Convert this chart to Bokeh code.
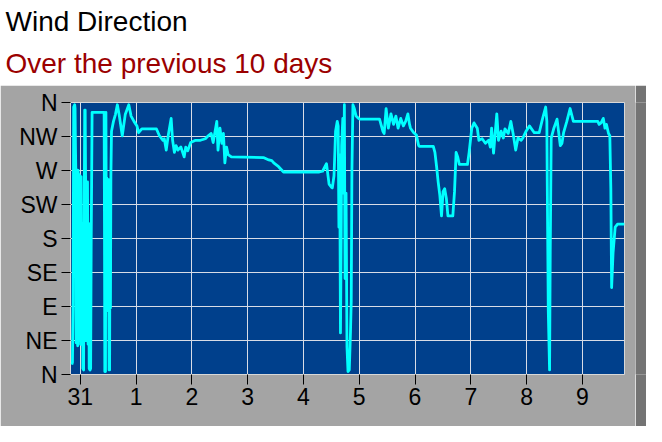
from bokeh.plotting import figure
from bokeh.models import FixedTicker, Range1d, Title
from bokeh.layouts import column, row
from bokeh.embed import file_html
from bokeh.resources import INLINE

title_text = "Wind Direction"
subtitle_text = "Over the previous 10 days"

# x axis: days since the start of day "31"
x_ticks = [0, 1, 2, 3, 4, 5, 6, 7, 8, 9]
x_labels = ["31", "1", "2", "3", "4", "5", "6", "7", "8", "9"]

# y axis: compass direction in degrees
y_ticks = [0, 45, 90, 135, 180, 225, 270, 315, 360]
y_labels = ["N", "NE", "E", "SE", "S", "SW", "W", "NW", "N"]

days = [
    -0.152, -0.140, -0.128, -0.118, -0.100, -0.093, -0.086, -0.080, -0.074, -0.068,
    -0.061, -0.053, -0.046, -0.038, -0.030, -0.022, -0.013, -0.004, 0.006, 0.016,
    0.026, 0.036, 0.046, 0.060, 0.070, 0.080, 0.088, 0.096, 0.104, 0.112,
    0.120, 0.130, 0.140, 0.150, 0.160, 0.175, 0.186, 0.196, 0.203, 0.212,
    0.320, 0.428, 0.434, 0.440, 0.452, 0.460, 0.468, 0.476, 0.484, 0.492,
    0.500, 0.508, 0.516, 0.526, 0.533, 0.541, 0.549, 0.560,
    0.595, 0.630, 0.665, 0.701, 0.753, 0.806, 0.870, 0.911, 0.963, 1.016,
    1.046, 1.103, 1.366, 1.419, 1.483, 1.506, 1.541, 1.576, 1.629, 1.655,
    1.687, 1.716, 1.751, 1.804, 1.862, 1.891, 1.926, 1.979, 2.067, 2.154,
    2.242, 2.294, 2.347, 2.382, 2.447, 2.469, 2.504, 2.539, 2.566, 2.592,
    2.622, 2.650, 2.709, 3.292, 3.380, 3.433, 3.468, 3.555, 3.643, 3.818,
    4.285, 4.343, 4.413, 4.460, 4.501, 4.518, 4.548, 4.565, 4.576, 4.606,
    4.623, 4.636, 4.650, 4.664, 4.676, 4.685, 4.706, 4.720, 4.734, 4.746,
    4.764, 4.781, 4.799, 4.822, 4.843, 4.857, 4.869, 4.887, 4.912, 4.944,
    4.985, 5.009, 5.364, 5.424, 5.447, 5.482, 5.522, 5.569, 5.616, 5.657,
    5.697, 5.744, 5.792, 5.832, 5.872, 5.902, 5.919, 5.977, 6.025, 6.065,
    6.077, 6.328, 6.357, 6.387, 6.415, 6.445, 6.475, 6.503, 6.532, 6.562,
    6.590, 6.678, 6.708, 6.737, 6.765, 6.795, 6.940, 6.970, 7.018, 7.058,
    7.116, 7.145, 7.203, 7.262, 7.320, 7.350, 7.373, 7.408, 7.437, 7.466,
    7.496, 7.543, 7.583, 7.612, 7.671, 7.718, 7.758, 7.805, 7.846, 7.904,
    7.933, 7.991, 8.051, 8.138, 8.226, 8.284, 8.342, 8.363, 8.371, 8.389,
    8.412, 8.424, 8.441, 8.489, 8.546, 8.604, 8.634, 8.663, 8.721, 8.780,
    8.839, 9.277, 9.300, 9.335, 9.375, 9.405, 9.431, 9.469, 9.492, 9.510,
    9.524, 9.550, 9.588, 9.630, 9.758,
]

direction = [
    13, 16, 97, 354, 357, 352, 300, 271, 42, 271,
    55, 268, 38, 270, 60, 265, 45, 263, 40, 262,
    50, 200, 8, 6, 200, 350, 350, 255, 45, 250,
    50, 255, 40, 200, 8, 6, 8, 178, 250, 347,
    347, 347, 200, 4, 4, 347, 150, 260, 85, 255,
    84, 258, 6, 6, 250, 88, 262, 322,
    335, 344, 357, 342, 316, 344, 357, 342, 335, 329,
    320, 325, 325, 316, 310, 312, 297, 316, 339, 310,
    294, 303, 297, 301, 288, 301, 296, 307, 310, 310,
    312, 316, 319, 307, 335, 297, 326, 306, 319, 280,
    301, 291, 288, 287, 284, 283, 280, 275, 268, 268,
    268, 269, 279, 252, 248, 247, 263, 297, 322, 335,
    329, 195, 291, 55, 176, 303, 339, 240, 357, 127,
    240, 36, 4, 6, 55, 97, 268, 357, 352, 342,
    339, 338, 338, 322, 319, 352, 326, 345, 331, 342,
    326, 339, 329, 335, 345, 331, 326, 320, 317, 303,
    302, 302, 294, 275, 255, 237, 210, 242, 246, 233,
    210, 210, 242, 294, 288, 278, 278, 294, 326, 333,
    326, 310, 312, 306, 310, 301, 326, 293, 319, 345,
    310, 322, 313, 325, 319, 335, 319, 297, 313, 310,
    313, 322, 329, 320, 320, 338, 354, 335, 250, 84,
    6, 163, 313, 326, 338, 303, 306, 320, 335, 352,
    335, 335, 331, 333, 339, 326, 331, 319, 316, 246,
    115, 161, 195, 199, 199,
]

FONT = "Liberation Sans"
PANEL = "#a4a4a4"
SHADOW = "#747474"
PLOT_BG = "#00408c"
TRACE = "#00ffff"

W = 646
SHADOW_W = 11
HEAD_H = 85
MAIN_H = 341
BORDER_L = 70
BORDER_R = 22

# ---- header (white band with the two titles) ----
header = figure(width=W, height=HEAD_H,
                x_range=Range1d(0, 1), y_range=Range1d(0, 1),
                toolbar_location=None, output_backend="svg",
                x_axis_location=None, y_axis_location=None,
                min_border_left=BORDER_L, min_border_right=BORDER_R,
                min_border_top=1, min_border_bottom=0)
header.title = None
header.grid.visible = False
header.outline_line_color = None
header.background_fill_color = "white"
header.border_fill_color = "white"
header.add_layout(Title(text=subtitle_text, align="left", offset=-65, standoff=11,
                        text_font=FONT, text_font_size="28px",
                        text_font_style="normal", text_color="#9b0000"), "above")
header.add_layout(Title(text=title_text, align="left", offset=-65, standoff=7,
                        text_font=FONT, text_font_size="28px",
                        text_font_style="normal", text_color="black"), "above")

# ---- main chart ----
p = figure(width=W - SHADOW_W, height=MAIN_H,
           x_range=Range1d(-0.175, 9.755), y_range=Range1d(0, 360),
           toolbar_location=None, output_backend="svg",
           min_border_left=BORDER_L, min_border_right=BORDER_R - SHADOW_W,
           min_border_top=17, min_border_bottom=52)
p.background_fill_color = PLOT_BG
p.border_fill_color = PANEL
p.outline_line_color = "#d8d8d8"
p.outline_line_width = 1

p.xaxis.ticker = FixedTicker(ticks=x_ticks)
p.xaxis.major_label_overrides = {t: l for t, l in zip(x_ticks, x_labels)}
p.yaxis.ticker = FixedTicker(ticks=y_ticks)
p.yaxis.major_label_overrides = {t: l for t, l in zip(y_ticks, y_labels)}

for ax in (p.xaxis, p.yaxis):
    ax.axis_line_color = None
    ax.major_tick_line_color = "black"
    ax.major_tick_line_width = 1
    ax.major_tick_in = 0
    ax.minor_tick_line_color = None
    ax.major_label_text_font = FONT
    ax.major_label_text_font_size = "23px"
    ax.major_label_text_color = "black"
p.xaxis.major_tick_out = 10
p.xaxis.major_label_standoff = 3
p.yaxis.major_tick_out = 9
p.yaxis.major_label_standoff = 4

p.xgrid.ticker = FixedTicker(ticks=x_ticks)
p.ygrid.ticker = FixedTicker(ticks=y_ticks)
p.grid.grid_line_color = "#d8dce6"
p.grid.grid_line_width = 1
p.grid.grid_line_alpha = 1.0

p.line(days, direction, line_color=TRACE, line_width=2.8, line_join="round")

# ---- right-hand bevel shadow of the grey panel ----
shadow = figure(width=SHADOW_W, height=MAIN_H,
                x_range=Range1d(0, 1), y_range=Range1d(0, 1),
                toolbar_location=None, output_backend="svg",
                x_axis_location=None, y_axis_location=None, min_border=0)
shadow.title = None
shadow.grid.visible = False
shadow.outline_line_color = None
shadow.background_fill_color = SHADOW
shadow.border_fill_color = SHADOW

layout = column(header, row(p, shadow, spacing=0), spacing=0)
open("out.html", "w").write(file_html(layout, INLINE))
